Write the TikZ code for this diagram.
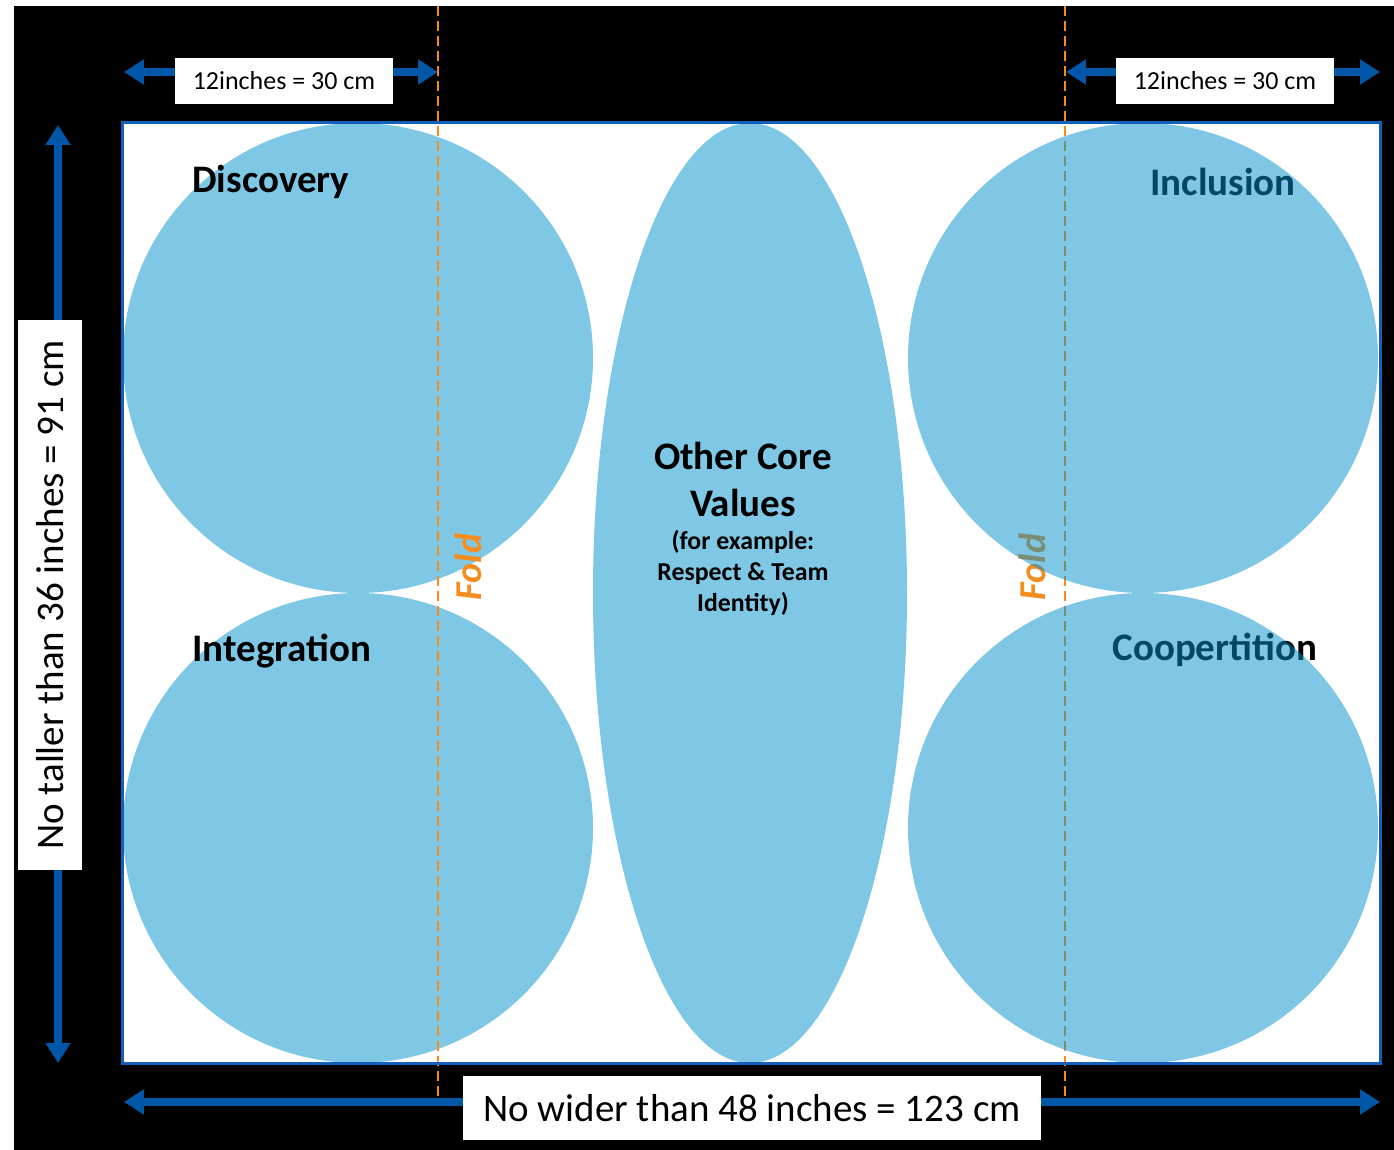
\documentclass[tikz,border=0pt]{standalone}
\usepackage{fontspec}
\setmainfont{Carlito}
\usetikzlibrary{arrows.meta}

\definecolor{capblue}{RGB}{127,200,229}
\definecolor{capveil}{RGB}{0,145,203}
\definecolor{dimblue}{RGB}{0,87,168}
\definecolor{edgeblue}{RGB}{20,95,185}
\definecolor{foldorange}{RGB}{245,140,30}

\tikzset{
    dimarrow/.style={line width=4pt, draw=dimblue, -{Triangle[length=10pt,width=12pt]}},
    dimbox/.style={fill=white, inner sep=0pt},
    valuelabel/.style={font=\fontsize{19.5}{23}\selectfont\bfseries, anchor=west, inner sep=0pt},
    foldline/.style={draw=foldorange, line width=1pt, dash pattern=on 5pt off 2.5pt},
    foldlabel/.style={font=\fontsize{19}{22}\selectfont\bfseries\itshape, text=foldorange, rotate=90, inner sep=0pt}
}

\begin{document}
\begin{tikzpicture}[x=0.5pt, y=-0.5pt]
    \useasboundingbox (0,0) rectangle (1394,1150);
    \fill[white] (0,0) rectangle (1394,1150);
    \fill[black] (14,6) rectangle (1394,1150);

    % poster sheet
    \fill[white] (122,123) rectangle (1380,1063);
    \begin{scope}
        \clip (122,123) rectangle (1380,1063);
        \fill[capblue] (358,358) circle[radius=235];
        \fill[capblue] (358,828) circle[radius=235];
        \fill[capblue] (750,593) ellipse[x radius=157, y radius=470];
    \end{scope}

    \node[valuelabel] (discovery) at (192,182) {Discovery};
    \node[valuelabel] (integration) at (192,651) {Integration};
    \node[valuelabel] (inclusion) at (1150,182) {Inclusion};
    \node[valuelabel] (coopertition) at (1112,650) {Coopertition};

    \node[align=center, inner sep=0pt, font=\fontsize{19.5}{23.5}\selectfont\bfseries] (core) at (743,479) {Other Core\\Values};
    \node[align=center, inner sep=0pt, font=\fontsize{12.9}{15.5}\selectfont\bfseries] (coreNote) at (743,573) {(for example:\\Respect \& Team\\Identity)};

    % fold lines
    \coordinate (foldAtop) at (438,6);
    \coordinate (foldAbot) at (438,1102);
    \coordinate (foldBtop) at (1065,6);
    \coordinate (foldBbot) at (1065,1102);
    \draw[foldline] (foldAtop) -- (foldAbot);
    \draw[foldline] (foldBtop) -- (foldBbot);
    \node[foldlabel] (foldA) at (468,567) {Fold};
    \node[foldlabel] (foldB) at (1032,567) {Fold};

    % right circles lie over the fold
    \begin{scope}
        \clip (122,123) rectangle (1380,1063);
        \fill[capveil, fill opacity=0.5] (1143,358) circle[radius=235];
        \fill[capveil, fill opacity=0.5] (1143,828) circle[radius=235];
    \end{scope}
    \draw[edgeblue, line width=1.5pt] (122,123) rectangle (1380,1063);

    % dimensions
    \node[dimbox, minimum width=109pt, minimum height=23pt, font=\fontsize{13}{15}\selectfont] (wleft) at (284,81) {12inches = 30 cm};
    \node[dimbox, minimum width=109pt, minimum height=23pt, font=\fontsize{13}{15}\selectfont] (wright) at (1225,81) {12inches = 30 cm};
    \node[dimbox, minimum width=289pt, minimum height=32pt, font=\fontsize{19.5}{23}\selectfont] (width) at (752,1108) {No wider than 48 inches = 123 cm};
    \node[dimbox, minimum width=275pt, minimum height=32pt, rotate=90, font=\fontsize{19.5}{23}\selectfont] (height) at (50,595) {No taller than 36 inches = 91 cm};

    \coordinate (wleftL) at (124,72);
    \coordinate (wleftR) at (438,72);
    \coordinate (wrightL) at (1066,72);
    \coordinate (wrightR) at (1380,72);
    \coordinate (widthL) at (124,1102);
    \coordinate (widthR) at (1380,1102);
    \coordinate (heightT) at (58,125);
    \coordinate (heightB) at (58,1063);

    \draw[dimarrow] (wleft.west |- wleftL) -- (wleftL);
    \draw[dimarrow] (wleft.east |- wleftR) -- (wleftR);
    \draw[dimarrow] (wright.west |- wrightL) -- (wrightL);
    \draw[dimarrow] (wright.east |- wrightR) -- (wrightR);
    \draw[dimarrow] (width.west |- widthL) -- (widthL);
    \draw[dimarrow] (width.east |- widthR) -- (widthR);
    \draw[dimarrow] (height.east -| heightT) -- (heightT);
    \draw[dimarrow] (height.west -| heightB) -- (heightB);
\end{tikzpicture}
\end{document}
